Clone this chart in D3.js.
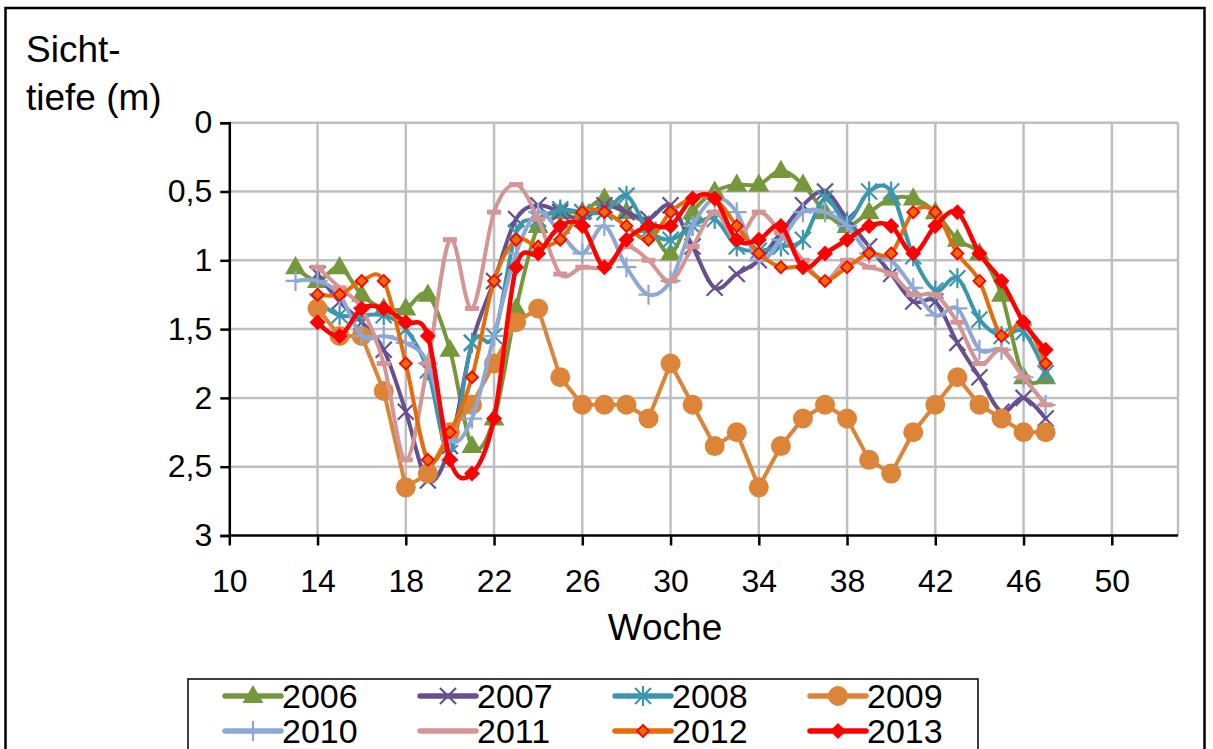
<!DOCTYPE html>
<html>
<head>
<meta charset="utf-8">
<script src="https://cdn.jsdelivr.net/npm/d3@7"></script>
<style>
  body { margin: 0; background: #fff; }
  text { font-family: "Liberation Sans", Arial, sans-serif; fill: #000; }
</style>
</head>
<body>
<div id="chart"></div>
<script>
// week numbers on the x axis
const weeks = [13, 14, 15, 16, 17, 18, 19, 20, 21, 22, 23, 24, 25, 26, 27, 28, 29, 30,
  31, 32, 33, 34, 35, 36, 37, 38, 39, 40, 41, 42, 43, 44, 45, 46, 47];

// Sichttiefe (m) per year, one value per week (null = no measurement)
const s2006 = [1.05, 1.15, 1.05, 1.25, 1.35, 1.35, 1.25, 1.65, 2.35, 2.15,
  1.35, 0.75, 0.65, 0.65, 0.55, 0.65, 0.75, 0.95, 0.65, 0.5,
  0.45, 0.45, 0.35, 0.45, 0.65, 0.75, 0.65, 0.55, 0.55, 0.65,
  0.85, 0.95, 1.25, 1.85, 1.85];
const s2007 = [null, 1.1, 1.3, 1.45, 1.65, 2.1, 2.6, 2.35, 1.6, 1.15,
  0.7, 0.6, 0.65, 0.7, 0.6, 0.65, 0.7, 0.6, 0.9, 1.2,
  1.1, 1.0, 0.8, 0.6, 0.5, 0.7, 0.9, 1.1, 1.3, 1.3,
  1.6, 1.85, 2.1, 2.0, 2.15];
const s2008 = [null, 1.3, 1.4, 1.4, 1.4, 1.5, 1.8, 2.4, 1.6, 1.55,
  0.8, 0.7, 0.63, 0.65, 0.65, 0.53, 0.78, 0.85, 0.75, 0.7,
  0.9, 0.93, 0.9, 0.85, 0.55, 0.72, 0.5, 0.5, 0.97, 1.22,
  1.13, 1.43, 1.55, 1.52, 1.82];
const s2009 = [null, 1.35, 1.55, 1.55, 1.95, 2.65, 2.55, 2.25, 2.05, 1.75,
  1.45, 1.35, 1.85, 2.05, 2.05, 2.05, 2.15, 1.75, 2.05, 2.35,
  2.25, 2.65, 2.35, 2.15, 2.05, 2.15, 2.45, 2.55, 2.25, 2.05,
  1.85, 2.05, 2.15, 2.25, 2.25];
const s2010 = [1.15, 1.15, 1.25, 1.55, 1.55, 1.6, 1.75, 2.3, 2.15, 1.55,
  0.95, 0.65, 0.8, 0.95, 0.75, 1.05, 1.25, 1.15, 0.75, 0.55,
  0.65, 1.0, 0.85, 0.65, 0.65, 0.75, 0.95, 1.0, 1.2, 1.4,
  1.35, 1.65, 1.65, 1.85, 2.05];
const s2011 = [null, 1.05, 1.2, 1.35, 1.75, 2.45, 1.75, 0.85, 1.35, 0.65,
  0.45, 0.7, 1.1, 1.05, 1.05, 0.9, 1.0, 1.15, 0.9, 0.65,
  0.85, 0.65, 0.8, 1.0, 1.15, 1.0, 1.05, 1.1, 1.25, 1.25,
  1.45, 1.75, 1.65, 1.85, 2.05];
const s2012 = [null, 1.25, 1.25, 1.15, 1.15, 1.75, 2.45, 2.25, 1.85, 1.15,
  0.85, 0.9, 0.85, 0.65, 0.65, 0.75, 0.85, 0.65, 0.55, 0.55,
  0.75, 0.95, 1.05, 1.05, 1.15, 1.05, 0.95, 0.95, 0.65, 0.65,
  0.95, 1.15, 1.55, 1.45, 1.75];
const s2013 = [null, 1.45, 1.55, 1.35, 1.35, 1.45, 1.55, 2.45, 2.55, 2.15,
  1.05, 0.95, 0.75, 0.75, 1.05, 0.85, 0.75, 0.75, 0.55, 0.55,
  0.85, 0.85, 0.75, 1.05, 0.95, 0.85, 0.75, 0.75, 0.95, 0.75,
  0.65, 0.95, 1.15, 1.45, 1.65];

const xTicks = [10, 14, 18, 22, 26, 30, 34, 38, 42, 46, 50];
const yTicks = [0, 0.5, 1, 1.5, 2, 2.5, 3];

const series = [
  { name: "2006", values: s2006, color: "#77973D", marker: "triangle", smooth: true },
  { name: "2007", values: s2007, color: "#65518F", marker: "x", smooth: true },
  { name: "2008", values: s2008, color: "#3C97AE", marker: "star", smooth: true },
  { name: "2009", values: s2009, color: "#DC8539", marker: "circle", smooth: false },
  { name: "2010", values: s2010, color: "#8EA8D6", marker: "plus", smooth: true },
  { name: "2011", values: s2011, color: "#D49594", marker: "dash", smooth: true },
  { name: "2012", values: s2012, color: "#E46C0A", marker: "smalldiamond", smooth: true },
  { name: "2013", values: s2013, color: "#FF0000", marker: "diamond", smooth: true }
];

const width = 1213, height = 749;
const plot = { left: 229.3, right: 1178, top: 122.7, bottom: 535.5 };

const svg = d3.select("#chart").append("svg")
  .attr("width", width)
  .attr("height", height);

svg.append("rect").attr("width", width).attr("height", height).attr("fill", "#fff");

// outer chart frame
svg.append("rect")
  .attr("x", 5.5).attr("y", 8)
  .attr("width", 1199).attr("height", 760)
  .attr("fill", "none").attr("stroke", "#000").attr("stroke-width", 2.5);

const x = d3.scaleLinear().domain([10, 53]).range([plot.left, plot.right]);
const y = d3.scaleLinear().domain([0, 3]).range([plot.top, plot.bottom]);
const fmt = d => String(d).replace(".", ",");

// grid
const grid = svg.append("g").attr("stroke", "#BFBFBF").attr("stroke-width", 2.5);
grid.selectAll(".gx").data(xTicks.slice(1).concat([53])).enter().append("line")
  .attr("x1", d => x(d)).attr("x2", d => x(d))
  .attr("y1", plot.top).attr("y2", plot.bottom);
grid.selectAll(".gy").data(yTicks.slice(0, -1)).enter().append("line")
  .attr("x1", plot.left).attr("x2", plot.right)
  .attr("y1", d => y(d)).attr("y2", d => y(d));

// axes
const yAxis = svg.append("g")
  .attr("transform", `translate(${plot.left},0)`)
  .call(d3.axisLeft(y).tickValues(yTicks).tickFormat(fmt).tickSize(9).tickPadding(8));
const xAxis = svg.append("g")
  .attr("transform", `translate(0,${plot.bottom})`)
  .call(d3.axisBottom(x).tickValues(xTicks).tickSize(10).tickPadding(24));
xAxis.select(".domain").attr("d", `M${plot.left},0H${plot.right}`);

[xAxis, yAxis].forEach(ax => {
  ax.select(".domain").attr("stroke", "#000").attr("stroke-width", 2.5);
  ax.selectAll(".tick line").attr("stroke", "#000").attr("stroke-width", 2.5);
  ax.selectAll(".tick text")
    .attr("font-family", "'Liberation Sans', Arial, sans-serif")
    .attr("font-size", 32).attr("fill", "#000");
});

svg.append("text").attr("x", 665).attr("y", 640)
  .attr("text-anchor", "middle").attr("font-size", 37).text("Woche");
svg.append("text").attr("x", 26).attr("y", 62).attr("font-size", 37).text("Sicht-");
svg.append("text").attr("x", 26).attr("y", 110).attr("font-size", 37).text("tiefe (m)");

// markers
function drawMarker(g, type, color) {
  switch (type) {
    case "triangle":
      g.append("path").attr("d", d3.symbol(d3.symbolTriangle, 190)()).attr("fill", color)
        .attr("transform", "translate(0,1)");
      break;
    case "circle":
      g.append("circle").attr("r", 10).attr("fill", color);
      break;
    case "x":
      g.append("path").attr("d", "M-8,-8L8,8M-8,8L8,-8")
        .attr("stroke", color).attr("stroke-width", 2.2);
      break;
    case "star":
      g.append("path").attr("d", "M-8,-8L8,8M-8,8L8,-8M0,-10V10")
        .attr("stroke", color).attr("stroke-width", 2.2);
      break;
    case "plus":
      g.append("path").attr("d", "M-10,0H10M0,-10V10")
        .attr("stroke", color).attr("stroke-width", 2.2);
      break;
    case "dash":
      g.append("path").attr("d", "M-7,0H7").attr("stroke", color).attr("stroke-width", 5);
      break;
    case "smalldiamond":
      g.append("path").attr("d", "M0,-6L6,0L0,6L-6,0Z")
        .attr("fill", color).attr("stroke", "#FF0000").attr("stroke-width", 1.8);
      break;
    case "diamond":
      g.append("path").attr("d", "M0,-8L8,0L0,8L-8,0Z").attr("fill", color);
      break;
  }
}

const lines = svg.append("g");
series.forEach(s => {
  const pts = weeks.map((w, i) => ({ w: w, v: s.values[i] })).filter(p => p.v != null);
  const line = d3.line()
    .x(p => x(p.w)).y(p => y(p.v))
    .curve(s.smooth ? d3.curveCardinal.tension(0) : d3.curveLinear);
  const g = lines.append("g");
  g.append("path").attr("d", line(pts))
    .attr("fill", "none").attr("stroke", s.color)
    .attr("stroke-width", s.name === "2013" ? 4.5 : 4)
    .attr("stroke-linejoin", "round").attr("stroke-linecap", "round");
  pts.forEach(p => {
    drawMarker(g.append("g").attr("transform", `translate(${x(p.w)},${y(p.v)})`), s.marker, s.color);
  });
});

// legend
const legend = svg.append("g");
legend.append("rect")
  .attr("x", 188).attr("y", 679).attr("width", 790).attr("height", 90)
  .attr("fill", "#fff").attr("stroke", "#000").attr("stroke-width", 1.5);
const colX = [225, 420, 615, 810];
const rowY = [696, 731];
series.forEach((s, i) => {
  const lx = colX[i % 4], ly = rowY[Math.floor(i / 4)];
  const g = legend.append("g");
  g.append("line").attr("x1", lx).attr("x2", lx + 56).attr("y1", ly).attr("y2", ly)
    .attr("stroke", s.color).attr("stroke-width", 5.5).attr("stroke-linecap", "round");
  if (s.marker !== "dash") {
    drawMarker(g.append("g").attr("transform", `translate(${lx + 28},${ly})`), s.marker, s.color);
  }
  g.append("text").attr("x", lx + 57).attr("y", ly + 12).attr("font-size", 34).text(s.name);
});
</script>
</body>
</html>
